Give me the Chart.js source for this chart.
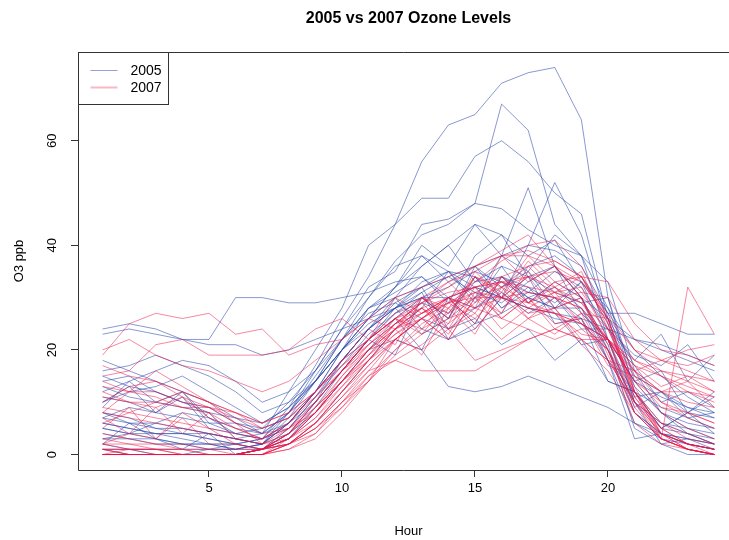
<!DOCTYPE html>
<html>
<head>
<meta charset="utf-8">
<script src="https://cdn.jsdelivr.net/npm/chart.js@4"></script>
<style>
  html, body { margin: 0; padding: 0; background: #fff; }
  #wrap { width: 729px; height: 540px; }
</style>
</head>
<body>
<div id="wrap"><canvas id="ozonePlot" width="729" height="540"></canvas></div>
<script>
// hours of the day
const hours = [1,2,3,4,5,6,7,8,9,10,11,12,13,14,15,16,17,18,19,20,21,22,23,24];
const xTicks = [5, 10, 15, 20];
const yTicks = [0, 20, 40, 60];
const yearLabels = ['2005', '2007'];

// one row per day, hourly O3 (ppb)
const ozone2005 = [
  [8,7,5,5,4,3,4,12,20,28,40,44,56,63,65,71,73,74,64,30,12,6,4,3],
  [6,5,4,4,3,2,3,9,17,26,34,44,49,49,57,60,56,50,46,26,10,5,4,2],
  [3,3,2,2,1,1,2,7,14,22,30,37,42,44,48,67,62,44,38,22,8,4,2,1],
  [10,13,8,11,5,4,5,10,16,24,32,35,44,45,48,47,43,40,38,28,15,12,9,7],
  [2,1,1,1,1,1,2,6,12,20,28,32,36,40,44,38,51,36,30,18,6,3,2,1],
  [5,4,4,3,2,2,3,8,14,20,26,32,38,33,36,30,40,52,42,25,10,6,5,4],
  [24,25,24,22,22,30,30,29,29,30,31,33,34,30,28,32,36,38,34,27,27,25,23,23],
  [23,24,23,22,21,21,19,20,22,24,26,28,30,32,35,33,30,28,30,26,22,20,18,16],
  [15,13,12,10,8,3,2,6,12,18,24,28,31,22,24,30,34,25,26,14,12,5,8,4],
  [7,6,6,5,4,3,2,4,8,14,20,22,20,13,12,13,15,13,11,9,6,4,3,2],
  [12,14,16,18,17,14,10,12,16,22,28,31,34,29,38,42,34,36,27,22,11,12,7,8],
  [1,1,0,0,0,0,1,4,10,16,22,28,33,35,30,38,35,42,38,33,16,8,4,2],
  [9,14,10,12,7,5,4,6,10,16,22,19,30,26,34,28,32,27,21,22,14,16,8,12],
  [16,17,19,17,15,12,8,10,14,20,26,30,32,24,26,21,24,18,22,14,12,5,8,7],
  [4,3,3,2,2,1,1,5,11,18,24,30,36,40,33,36,29,33,30,20,8,4,3,2],
  [11,10,8,7,6,6,5,7,12,18,24,28,23,26,30,34,31,35,32,24,18,23,14,19],
  [2,6,3,1,4,0,1,3,8,14,20,26,30,26,36,32,35,28,28,20,10,2,3,1],
  [14,15,12,10,9,6,4,8,14,22,28,30,24,22,25,27,30,32,28,18,12,9,7,5],
  [6,5,4,4,4,3,2,6,12,20,26,32,40,36,44,42,38,41,33,28,20,15,11,8],
  [18,16,14,12,10,7,4,8,15,22,27,29,26,24,28,31,27,30,24,24,19,17,21,14],
  [3,4,6,8,7,4,3,6,12,18,22,26,20,30,25,34,30,28,33,22,9,12,8,11],
  [8,6,5,4,3,2,1,4,10,18,24,29,32,34,36,38,40,39,36,27,13,8,5,3],
  [1,0,0,0,0,0,1,2,6,12,18,24,28,35,34,28,31,30,26,18,3,4,2,1],
  [13,11,10,9,8,7,6,9,14,20,24,28,30,30,32,30,28,27,26,24,22,21,19,17],
  [10,12,13,15,12,9,6,9,14,20,25,28,32,35,29,36,34,31,29,30,14,11,9,8],
  [5,4,3,2,2,1,2,8,16,24,30,36,38,35,32,30,28,26,25,22,14,8,6,5],
  [0,0,0,0,1,2,1,3,9,16,22,27,31,34,31,29,33,36,30,21,5,2,0,0],
  [7,9,8,12,6,4,3,5,11,17,23,27,29,27,33,34,32,29,33,26,17,10,12,9]
];

const ozone2007 = [
  [19,25,27,26,27,23,24,19,21,22,26,24,30,28,34,31,38,33,34,25,18,15,12,10],
  [15,16,21,22,19,19,19,20,24,26,22,30,27,30,24,30,26,23,27,18,16,12,14,9],
  [0,0,0,0,0,0,1,4,10,16,22,26,24,30,27,34,29,31,25,20,6,2,1,0],
  [1,1,0,0,0,0,1,3,8,14,20,25,29,33,28,38,33,36,30,19,8,3,1,0],
  [0,0,0,0,0,0,0,2,6,12,18,24,28,25,34,30,37,32,35,24,13,4,2,1],
  [12,10,9,11,7,5,3,6,12,18,24,21,30,27,34,32,29,32,27,26,20,18,16,14],
  [1,0,0,0,0,0,1,5,10,16,20,24,19,28,23,32,26,28,21,16,8,3,1,0],
  [6,8,10,12,10,8,6,8,12,18,22,26,28,24,32,26,30,25,26,17,15,9,8,6],
  [0,0,0,0,0,0,0,1,4,10,16,22,26,30,33,37,40,41,36,26,12,5,2,0],
  [10,13,14,11,9,6,4,5,8,14,18,24,26,22,30,27,36,31,32,22,14,10,8,6],
  [2,1,1,0,0,0,1,4,9,15,20,24,28,30,28,26,24,22,24,20,12,3,32,23],
  [14,12,11,9,8,5,3,6,11,16,22,26,23,29,26,31,27,28,22,22,17,13,15,12],
  [3,2,2,1,1,0,1,3,7,12,17,22,26,29,32,27,35,30,31,24,12,6,3,2],
  [0,0,0,0,0,0,0,1,3,8,14,20,25,28,31,33,34,32,29,22,10,4,1,0],
  [8,7,6,5,4,3,2,5,10,16,22,27,30,26,35,30,34,28,30,21,16,12,10,9],
  [17,15,14,12,10,8,5,7,12,17,22,26,29,24,27,22,26,30,25,22,16,18,20,21],
  [1,1,1,0,0,0,1,3,6,11,16,18,16,16,16,19,22,24,22,18,10,4,2,1],
  [5,9,3,7,2,2,1,4,9,14,19,24,27,30,32,33,31,30,28,22,14,8,5,3],
  [0,0,0,0,0,0,0,2,5,10,15,20,24,27,30,32,34,35,33,26,12,4,1,0],
  [20,22,19,17,16,14,12,14,18,22,26,30,32,34,36,38,38,36,33,27,20,16,14,12],
  [11,10,10,9,9,8,6,8,12,17,21,25,28,23,31,26,30,24,27,22,15,12,12,11],
  [0,1,1,1,0,0,1,3,8,13,18,23,27,30,32,34,36,37,34,25,11,5,2,1],
  [4,3,2,2,1,1,1,2,5,10,14,22,20,24,18,20,22,24,22,18,10,6,4,2],
  [2,2,1,1,0,0,0,2,6,12,18,22,26,29,31,30,28,27,25,20,10,3,1,0],
  [13,12,12,10,9,7,5,7,11,16,21,25,27,29,30,30,29,27,25,22,18,16,15,14],
  [0,0,0,0,0,0,1,2,6,11,17,22,26,30,25,34,29,33,30,20,8,3,1,0],
  [7,4,9,4,8,3,2,4,8,14,20,25,29,31,32,33,32,31,29,24,16,10,7,5],
  [1,0,0,0,0,0,0,3,8,15,21,26,30,33,35,38,39,37,34,26,11,4,2,1],
  [9,8,7,6,5,4,3,5,9,14,19,23,26,22,30,24,28,27,23,22,17,15,13,11],
  [0,0,0,0,0,0,0,2,5,9,14,19,23,26,28,30,31,30,28,22,9,3,1,0],
  [8,12,16,13,10,6,2,3,7,13,19,25,29,32,36,39,42,36,31,30,22,18,17,19],
  [2,4,3,8,5,2,1,2,4,9,15,18,21,25,29,33,28,31,34,33,25,20,19,17]
];

const blueCol = 'rgba(40,70,170,0.55)';
const redCol = 'rgba(235,20,70,0.5)';

function toDatasets(rows, year, col) {
    return rows.map(function (row) {
        return {
            label: year,
            data: row.map(function (v, i) { return { x: hours[i], y: v }; }),
            borderColor: col,
            borderWidth: 1,
            pointRadius: 0,
            tension: 0,
            fill: false
        };
    });
}

// R style decorations: title, axis titles, rotated y labels, box, legend
const rDecor = {
    id: 'rDecor',
    afterDraw: function (chart) {
        const ctx = chart.ctx;
        const area = chart.chartArea;
        const yScale = chart.scales.y;
        const midX = (area.left + 739) / 2;
        ctx.save();
        ctx.fillStyle = '#000';

        // title
        ctx.font = 'bold 16px "Liberation Sans", Arial, sans-serif';
        ctx.textAlign = 'center';
        ctx.textBaseline = 'middle';
        ctx.fillText('2005 vs 2007 Ozone Levels', midX, 19);

        // axis titles
        ctx.font = '13px "Liberation Sans", Arial, sans-serif';
        ctx.fillText('Hour', midX, 531);
        ctx.save();
        ctx.translate(19, (area.top + area.bottom) / 2);
        ctx.rotate(-Math.PI / 2);
        ctx.fillText('O3 ppb', 0, 0);
        ctx.restore();

        // y tick labels, parallel to the axis
        yTicks.forEach(function (t) {
            ctx.save();
            ctx.translate(52, yScale.getPixelForValue(t));
            ctx.rotate(-Math.PI / 2);
            ctx.fillText(String(t), 0, 0);
            ctx.restore();
        });

        // box (right side is cut off in the original)
        ctx.strokeStyle = '#333';
        ctx.lineWidth = 1;
        ctx.beginPath();
        ctx.moveTo(729, area.top + 0.5);
        ctx.lineTo(area.left + 0.5, area.top + 0.5);
        ctx.lineTo(area.left + 0.5, area.bottom + 0.5);
        ctx.lineTo(729, area.bottom + 0.5);
        ctx.stroke();

        // legend
        const lx = area.left + 0.5, ly = area.top + 0.5;
        ctx.fillStyle = '#fff';
        ctx.fillRect(lx, ly, 90, 52);
        ctx.strokeStyle = '#333';
        ctx.strokeRect(lx, ly, 90, 52);
        ctx.font = '14px "Liberation Sans", Arial, sans-serif';
        ctx.textAlign = 'left';
        ctx.fillStyle = '#000';
        const legCols = ['rgba(40,70,170,0.5)', 'rgba(235,20,70,0.3)'];
        const legW = [1, 2];
        yearLabels.forEach(function (lab, i) {
            const yy = ly + 18 + i * 17;
            ctx.strokeStyle = legCols[i];
            ctx.lineWidth = legW[i];
            ctx.beginPath();
            ctx.moveTo(lx + 12, yy);
            ctx.lineTo(lx + 39, yy);
            ctx.stroke();
            ctx.fillText(lab, lx + 52, yy + 1);
        });
        ctx.restore();
    }
};

document.addEventListener('DOMContentLoaded', function () {
    const ctx = document.getElementById('ozonePlot').getContext('2d');
    // red first so the 2007 lines land on top
    const datasets = toDatasets(ozone2007, '2007', redCol).concat(toDatasets(ozone2005, '2005', blueCol));

    new Chart(ctx, {
        type: 'line',
        data: { datasets: datasets },
        options: {
            responsive: false,
            animation: false,
            layout: { padding: { top: 52, right: 0, left: 0, bottom: 0 } },
            plugins: {
                legend: { display: false },
                title: { display: false },
                tooltip: { enabled: false }
            },
            scales: {
                x: {
                    type: 'linear',
                    min: 0.075,
                    max: 24.55,
                    afterBuildTicks: function (s) { s.ticks = xTicks.map(function (v) { return { value: v }; }); },
                    afterFit: function (s) { s.height = 70; },
                    grid: { drawOnChartArea: false, drawTicks: true, tickLength: 7, tickColor: '#333', color: '#333' },
                    border: { display: false },
                    ticks: {
                        color: '#000',
                        padding: 4,
                        maxRotation: 0,
                        font: { family: '"Liberation Sans", Arial, sans-serif', size: 13 }
                    }
                },
                y: {
                    type: 'linear',
                    min: -2.96,
                    max: 76.96,
                    afterBuildTicks: function (s) { s.ticks = yTicks.map(function (v) { return { value: v }; }); },
                    afterFit: function (s) { s.width = 78; },
                    grid: { drawOnChartArea: false, drawTicks: true, tickLength: 7, tickColor: '#333', color: '#333' },
                    border: { display: false },
                    ticks: { display: false }
                }
            }
        },
        plugins: [rDecor]
    });
});
</script>
</body>
</html>
